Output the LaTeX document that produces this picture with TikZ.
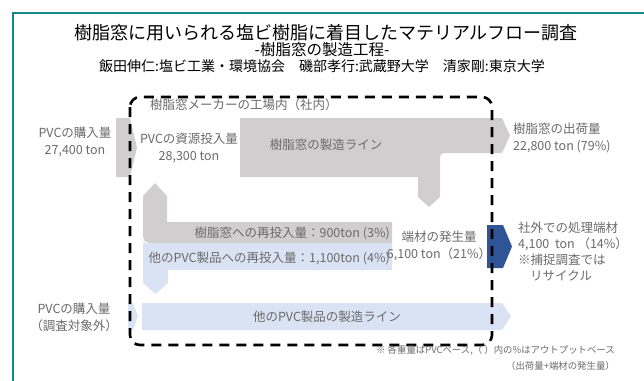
\documentclass[tikz,border=0pt]{standalone}
\usepackage{fontspec}
\setmainfont{Noto Sans CJK JP}
\definecolor{framec}{HTML}{16898A}
\definecolor{flowgray}{HTML}{D0CECE}
\definecolor{flowblue}{HTML}{DAE3F3}
\definecolor{darkblue}{HTML}{2F5597}
\definecolor{txtgray}{HTML}{6A6A6A}
\tikzset{
  lbl/.style={text=txtgray, font=\fontsize{12.5}{17}\selectfont, inner sep=0pt},
  flowg/.style={fill=flowgray, draw=none},
  flowb/.style={fill=flowblue, draw=none},
  factory/.style={draw=black, line width=2.6pt, dash pattern=on 10pt off 7pt, rounded corners=10pt},
}
\begin{document}
\begin{tikzpicture}[x=1pt,y=-1pt]
\useasboundingbox (0,0) rectangle (644,380);
\draw[framec, line width=2.2pt] (13,381) -- (13,13) -- (645,13);
% titles
\node[inner sep=0pt, font=\fontsize{18}{20}\selectfont] (title) at (326,33) {樹脂窓に用いられる塩ビ樹脂に着目したマテリアルフロー調査};
\node[inner sep=0pt, font=\fontsize{15.5}{16}\selectfont] (sub) at (322,50) {-樹脂窓の製造工程-};
\node[inner sep=0pt, font=\fontsize{14}{16}\selectfont] (auth) at (322,66) {飯田伸仁:塩ビ工業・環境協会　磯部孝行:武蔵野大学　清家剛:東京大学};
% flows
\fill[flowg] (116,118) -- (130,118) -- (137,147.5) -- (130,177) -- (116,177) -- cycle;
\fill[flowg] (240,118) -- (502,118) -- (510,135.5) -- (502,153) -- (449,153) .. controls (440,153) .. (440,162) -- (440,197) -- (429,207) -- (418,197) -- (418,177) -- (240,177) -- cycle;
\fill[flowb] (143,243) -- (392,243) -- (392,270) -- (168,270) -- (168,283) -- (155.5,294) -- (143,283) -- cycle;
\fill[flowg] (392,222) -- (167,222) -- (167,196) -- (155,183) -- (143,196) -- (143,228) .. controls (143,243) .. (158,243) -- (392,243) -- cycle;
\fill[flowb] (128,303) -- (133,303) -- (138,316.5) -- (133,330) -- (128,330) -- cycle;
\fill[flowb] (142,303) -- (502,303) -- (511,316.5) -- (502,330) -- (142,330) -- cycle;
\fill[darkblue] (487,225) -- (503,225) -- (512,246.5) -- (503,268) -- (487,268) -- cycle;
% factory boundary
\draw[factory] (130,97) rectangle (492,345);
% labels
\node[lbl, align=center] (buy1) at (75,142) {PVCの購入量\\27,400 ton};
\node[lbl, anchor=west] (fac) at (150,105) {樹脂窓メーカーの工場内（社内）};
\node[lbl, align=center] (res) at (189,148) {PVCの資源投入量\\28,300 ton};
\node[lbl] (line1) at (326,145) {樹脂窓の製造ライン};
\node[lbl, align=left, anchor=west] (ship) at (513,138) {樹脂窓の出荷量\\22,800 ton (79\%)};
\node[lbl, anchor=east] (re1) at (390,233) {樹脂窓への再投入量：900ton (3\%)};
\node[lbl, anchor=east] (re2) at (390,258) {他のPVC製品への再投入量：1,100ton (4\%)};
\node[lbl, align=center] (scrap) at (439,246) {端材の発生量\\6,100 ton（21\%）};
\node[lbl, align=left, anchor=west, font=\fontsize{12.5}{16}\selectfont] (out) at (518,252) {社外での処理端材\\4,100\ \ ton （14\%）\\※捕捉調査では\\\hspace*{12pt}リサイクル};
\node[lbl, align=center] (buy2) at (74,317) {PVCの購入量\\（調査対象外）};
\node[lbl] (line2) at (327,317) {他のPVC製品の製造ライン};
\node[lbl, align=right, anchor=east, font=\fontsize{9.4}{16}\selectfont] (note) at (615,358) {※ 各重量はPVCベース,（ ）内の\%はアウトプットベース\\（出荷量+端材の発生量）};
\end{tikzpicture}
\end{document}
